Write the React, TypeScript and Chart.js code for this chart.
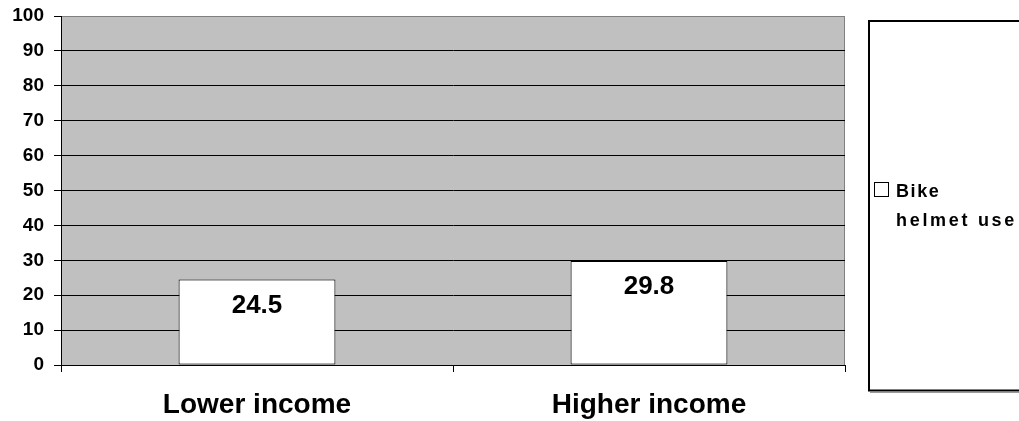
import React, { useEffect, useRef } from "react";
import { Chart, registerables } from "chart.js";

Chart.register(...registerables);

// Chart data
const categories = ["Lower income", "Higher income"];
const helmetUse = [24.5, 29.8];
const seriesLabel = "Bike helmet use";
const legendLines = ["Bike", "helmet use"];
const yTicks = [0, 10, 20, 30, 40, 50, 60, 70, 80, 90, 100];

const FONT = "'Liberation Sans', Arial, Helvetica, sans-serif";

// Gray plot background with gray top/right frame
const plotBackground = {
  id: "plotBackground",
  beforeDraw(chart: any) {
    const { ctx, chartArea: a } = chart;
    ctx.save();
    ctx.fillStyle = "#C0C0C0";
    ctx.fillRect(a.left, a.top, a.right - a.left, a.bottom - a.top);
    ctx.strokeStyle = "#808080";
    ctx.lineWidth = 1;
    ctx.beginPath();
    ctx.moveTo(a.left, a.top + 0.5);
    ctx.lineTo(a.right - 0.5, a.top + 0.5);
    ctx.lineTo(a.right - 0.5, a.bottom);
    ctx.stroke();
    ctx.restore();
  },
};

// Value labels inside the bars
const barValues = {
  id: "barValues",
  afterDatasetsDraw(chart: any) {
    const { ctx } = chart;
    const meta = chart.getDatasetMeta(0);
    const values = chart.data.datasets[0].data as number[];
    ctx.save();
    ctx.fillStyle = "#000";
    ctx.font = `bold 26px ${FONT}`;
    ctx.textAlign = "center";
    ctx.textBaseline = "middle";
    meta.data.forEach((bar: any, i: number) => {
      ctx.fillText(values[i].toFixed(1), bar.x, bar.y + 26);
    });
    ctx.restore();
  },
};

function spacedText(ctx: CanvasRenderingContext2D, text: string, x: number, y: number, spacing: number) {
  let cx = x;
  for (const ch of text) {
    ctx.fillText(ch, cx, y);
    cx += ctx.measureText(ch).width + spacing;
  }
}

// Boxed legend on the right side
const boxedLegend = {
  id: "boxedLegend",
  afterDraw(chart: any) {
    const { ctx } = chart;
    ctx.save();
    ctx.strokeStyle = "#9a9a9a";
    ctx.lineWidth = 1;
    ctx.beginPath();
    ctx.moveTo(870, 392.5);
    ctx.lineTo(1030, 392.5);
    ctx.stroke();
    ctx.strokeStyle = "#000";
    ctx.lineWidth = 2;
    ctx.strokeRect(869, 21, 200, 369.5);

    ctx.fillStyle = "#fff";
    ctx.fillRect(874.5, 182.5, 14, 14);
    ctx.lineWidth = 1;
    ctx.strokeRect(874.5, 182.5, 14, 14);

    ctx.fillStyle = "#000";
    ctx.font = `bold 18px ${FONT}`;
    ctx.textAlign = "left";
    ctx.textBaseline = "alphabetic";
    spacedText(ctx, legendLines[0], 896, 197, 1.6);
    spacedText(ctx, legendLines[1], 896, 226, 2.7);
    ctx.restore();
  },
};

export default function App() {
  const canvasRef = useRef<HTMLCanvasElement | null>(null);

  useEffect(() => {
    if (!canvasRef.current) return;
    const chart = new Chart(canvasRef.current, {
      type: "bar",
      data: {
        labels: categories,
        datasets: [
          {
            label: seriesLabel,
            data: helmetUse,
            backgroundColor: "#FFFFFF",
            borderColor: "#000000",
            borderWidth: 1,
            borderSkipped: false,
            barPercentage: 0.4,
            categoryPercentage: 1.0,
          },
        ],
      },
      options: {
        animation: false,
        responsive: false,
        maintainAspectRatio: false,
        layout: { padding: { left: 0, top: 16, right: 174, bottom: 0 } },
        plugins: {
          legend: { display: false },
          tooltip: { enabled: false },
        },
        scales: {
          x: {
            offset: true,
            grid: {
              offset: true,
              drawOnChartArea: false,
              drawTicks: true,
              tickLength: 7,
              color: "#000",
              lineWidth: 1,
            },
            border: { display: true, color: "#000", width: 1 },
            ticks: {
              color: "#000",
              font: { family: FONT, size: 28, weight: "bold" },
              padding: 16,
              maxRotation: 0,
            },
            afterFit(scale: any) {
              scale.height = 56;
              scale.paddingLeft = 0;
              scale.paddingRight = 0;
            },
          },
          y: {
            min: 0,
            max: 100,
            afterBuildTicks(scale: any) {
              scale.ticks = yTicks.map((v) => ({ value: v }));
            },
            grid: {
              color: (c: any) => (c.tick && c.tick.value === 100 ? "#808080" : "#000"),
              tickColor: "#000",
              lineWidth: 1,
              drawTicks: true,
              tickLength: 7,
            },
            border: { display: true, color: "#000", width: 1 },
            ticks: {
              color: "#000",
              font: { family: FONT, size: 19, weight: "bold" },
              padding: 10,
            },
            afterFit(scale: any) {
              scale.width = 61;
              scale.paddingTop = 0;
              scale.paddingBottom = 0;
            },
          },
        },
      },
      plugins: [plotBackground, barValues, boxedLegend],
    });
    return () => chart.destroy();
  }, []);

  return (
    <div style={{ position: "fixed", left: 0, top: 0, width: 1019, height: 421, background: "#fff" }}>
      <canvas ref={canvasRef} width={1019} height={421} style={{ display: "block" }} />
    </div>
  );
}
